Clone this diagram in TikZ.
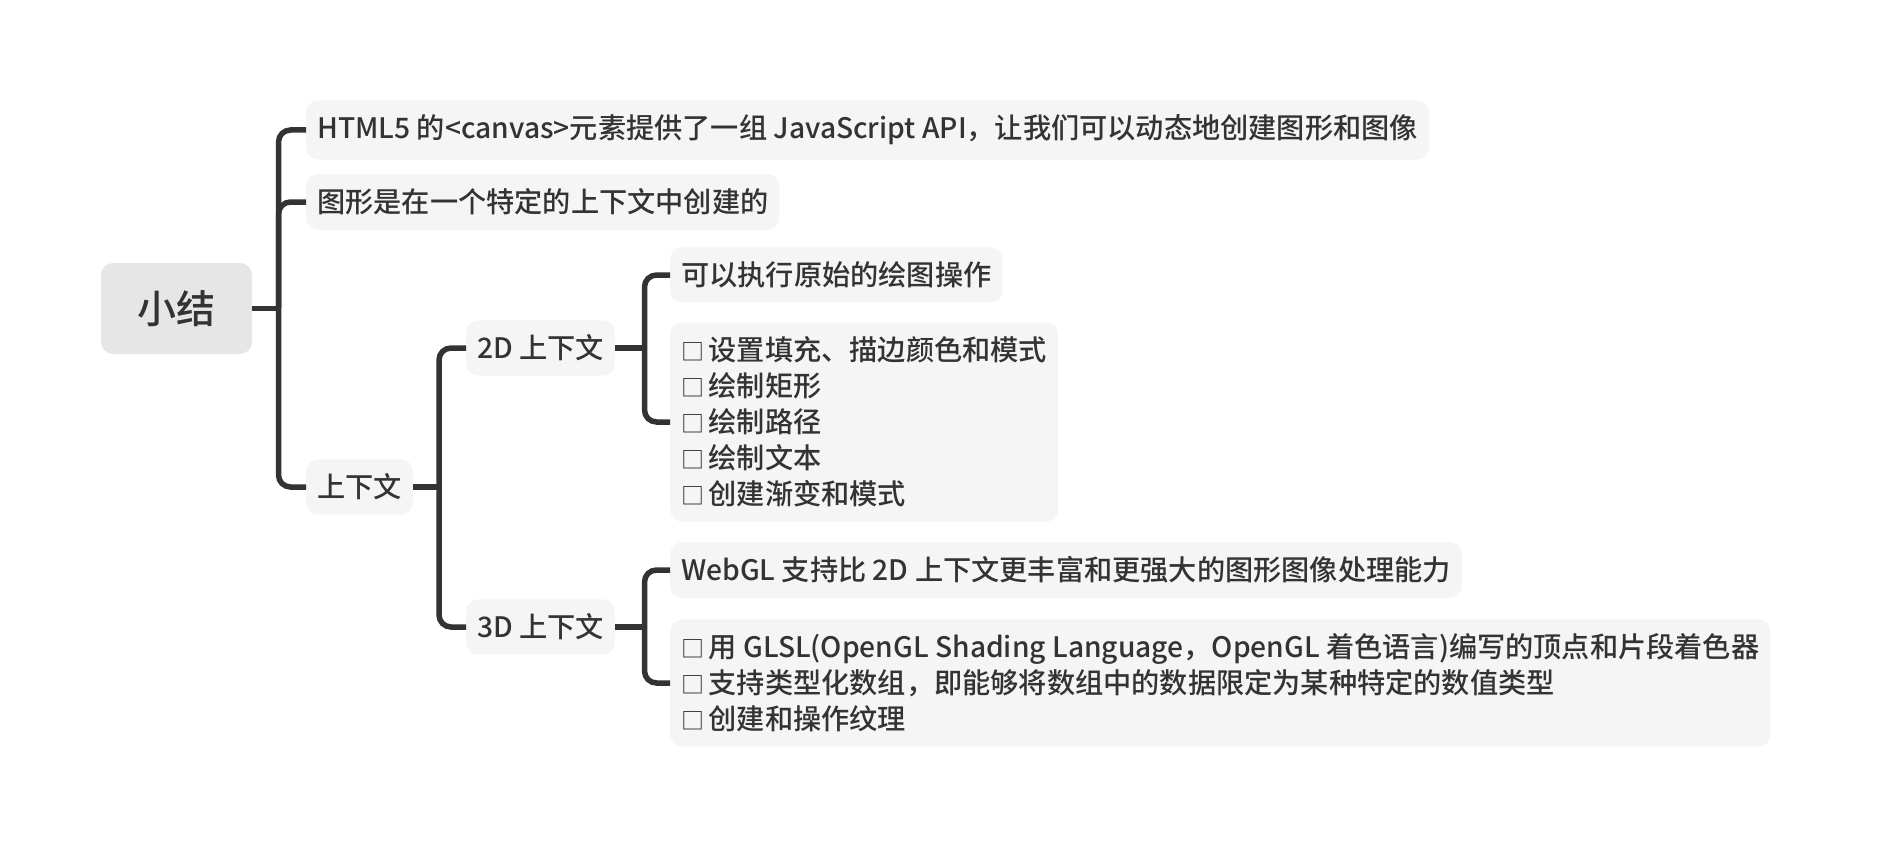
\documentclass[tikz,border=0pt]{standalone}
\usepackage{fontspec}
\setmainfont{Noto Sans CJK SC Medium}
\definecolor{txt}{HTML}{333333}
\definecolor{boxfill}{HTML}{F5F5F5}
\definecolor{rootfill}{HTML}{E6E6E6}
\definecolor{linec}{HTML}{333333}
\newcommand{\sqbox}{\makebox[27.5pt][l]{\fontsize{23}{36}\selectfont □}}
\begin{document}
\begin{tikzpicture}[x=1pt,y=-1pt,
  topic/.style={fill=boxfill,rounded corners=12pt,inner xsep=11pt,inner ysep=14.5pt,
    text=txt,align=left,anchor=west,font=\fontsize{28.2}{36}\selectfont},
  roottopic/.style={fill=rootfill,rounded corners=12pt,minimum width=151pt,minimum height=91pt,
    text=txt,font=\fontsize{39}{48}\selectfont},
  conn/.style={draw=linec,line width=5.5pt,rounded corners=12pt}]
\useasboundingbox (0,0) rectangle (1882,848);
\node[roottopic] (root) at (176.5,308.5) {小结};
\node[topic] (c1) at (306,130) {HTML5 的<canvas>元素提供了一组 JavaScript API，让我们可以动态地创建图形和图像};
\node[topic] (c2) at (306,202) {图形是在一个特定的上下文中创建的};
\node[topic] (c3) at (306,487) {上下文};
\node[topic] (d2) at (466,348) {2D 上下文};
\node[topic] (d3) at (466,627) {3D 上下文};
\node[topic] (e1) at (670,275) {可以执行原始的绘图操作};
\node[topic] (e2) at (670,422) {\sqbox 设置填充、描边颜色和模式\\\sqbox 绘制矩形\\\sqbox 绘制路径\\\sqbox 绘制文本\\\sqbox 创建渐变和模式};
\node[topic] (f1) at (670,570) {WebGL 支持比 2D 上下文更丰富和更强大的图形图像处理能力};
\node[topic] (f2) at (670,683) {\sqbox 用 GLSL(OpenGL Shading Language，OpenGL 着色语言)编写的顶点和片段着色器\\\sqbox 支持类型化数组，即能够将数组中的数据限定为某种特定的数值类型\\\sqbox 创建和操作纹理};
\coordinate (j1) at (278.5,308.5);
\coordinate (j2) at (439,487);
\coordinate (j3) at (644.5,348);
\coordinate (j4) at (644.5,627);
\draw[conn] (root.east) -- (j1);
\draw[conn] (j1) |- (c1.west);
\draw[conn] (j1) |- (c2.west);
\draw[conn] (j1) |- (c3.west);
\draw[conn] (c3.east) -- (j2);
\draw[conn] (j2) |- (d2.west);
\draw[conn] (j2) |- (d3.west);
\draw[conn] (d2.east) -- (j3);
\draw[conn] (j3) |- (e1.west);
\draw[conn] (j3) |- (e2.west);
\draw[conn] (d3.east) -- (j4);
\draw[conn] (j4) |- (f1.west);
\draw[conn] (j4) |- (f2.west);
\end{tikzpicture}
\end{document}
